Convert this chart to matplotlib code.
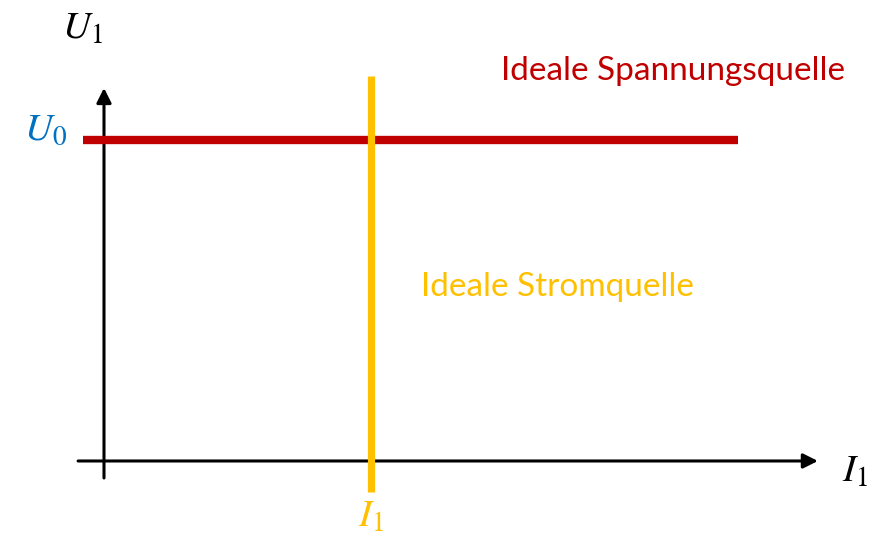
import matplotlib
matplotlib.use("Agg")
import matplotlib.pyplot as plt

plt.rcParams['mathtext.fontset'] = 'stix'
plt.rcParams['font.family'] = ['Lato', 'DejaVu Sans']

# Data (normalised units: I1 = 1, U0 = 1)
U0 = 1.0
I1 = 1.0
voltage_source_I = [-0.08, 2.375]      # current range of ideal voltage source line
voltage_source_U = [U0, U0]
current_source_I = [I1, I1]
current_source_U = [-0.097, 1.199]     # voltage range of ideal current source line
x_axis_range = [-0.097, 2.674]
y_axis_range = [-0.053, 1.162]

label_voltage = "Ideale Spannungsquelle"
label_current = "Ideale Stromquelle"

RED = "#C00000"
YELLOW = "#FFC000"
BLUE = "#0070C0"

fig = plt.figure(figsize=(8.82, 5.37), dpi=100)
ax = fig.add_axes([0, 0, 1, 1])
ax.set_xlim(-0.3895, 2.914)
ax.set_ylim(-0.2368, 1.436)
ax.axis('off')

# axes arrows
ax.annotate('', xy=(x_axis_range[1], 0), xytext=(x_axis_range[0], 0),
            arrowprops=dict(arrowstyle='-|>', color='black', lw=2.2,
                            mutation_scale=22, shrinkA=0, shrinkB=0))
ax.annotate('', xy=(0, y_axis_range[1]), xytext=(0, y_axis_range[0]),
            arrowprops=dict(arrowstyle='-|>', color='black', lw=2.2,
                            mutation_scale=22, shrinkA=0, shrinkB=0))

# source characteristics
ax.plot(voltage_source_I, voltage_source_U, color=RED, lw=6, solid_capstyle='butt', zorder=3)
ax.plot(current_source_I, current_source_U, color=YELLOW, lw=5.2, solid_capstyle='butt', zorder=4)

# labels
ms = 28
ax.text(-0.082, 1.35, r'$U_1$', fontsize=ms, ha='center', va='center', color='black')
ax.text(-0.22, 1.035, r'$U_0$', fontsize=ms, ha='center', va='center', color=BLUE)
ax.text(2.813, -0.03, r'$I_1$', fontsize=ms, ha='center', va='center', color='black')
ax.text(I1, -0.17, r'$I_1$', fontsize=ms, ha='center', va='center', color=YELLOW)

ax.text(2.13, 1.216, label_voltage, fontsize=24, ha='center', va='center', color=RED)
ax.text(1.697, 0.542, label_current, fontsize=24, ha='center', va='center', color=YELLOW)

fig.savefig('out.png', dpi=100)
